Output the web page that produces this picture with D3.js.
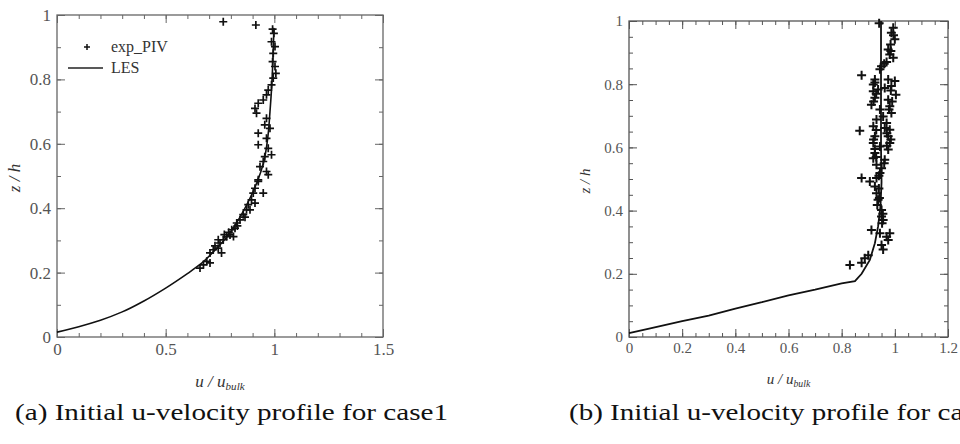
<!DOCTYPE html>
<html lang="en">
<head>
<meta charset="UTF-8">
<title>Initial u-velocity profiles</title>
<script src="https://cdn.jsdelivr.net/npm/d3@7"></script>
<style>
    body { margin: 0; background: #fff; }
    svg { display: block; }
    .domain { display: none; }
</style>
</head>
<body>
<script>

    // case1 : experiment (PIV) points, [u/ubulk, z/h]
    var expA = [
        [0.765, 0.979], [0.915, 0.969], [0.992, 0.956], [0.998, 0.943], [0.987, 0.917],
        [1.003, 0.902], [0.995, 0.881], [0.992, 0.855], [1.003, 0.840], [1.007, 0.819],
        [0.995, 0.804], [0.987, 0.783], [0.972, 0.767], [0.964, 0.752], [0.949, 0.736],
        [0.926, 0.726], [0.911, 0.710], [0.918, 0.695], [0.964, 0.679], [0.956, 0.659],
        [0.980, 0.648], [0.926, 0.633], [0.964, 0.617], [0.926, 0.597], [0.972, 0.586],
        [0.987, 0.566], [0.956, 0.560], [0.949, 0.545], [0.934, 0.529], [0.964, 0.514],
        [0.972, 0.504], [0.926, 0.488], [0.926, 0.483], [0.911, 0.462], [0.949, 0.447],
        [0.903, 0.447], [0.895, 0.426], [0.911, 0.416], [0.880, 0.411], [0.872, 0.395],
        [0.888, 0.395], [0.857, 0.380], [0.842, 0.364], [0.827, 0.354], [0.819, 0.338],
        [0.804, 0.333], [0.796, 0.317], [0.812, 0.312], [0.781, 0.312], [0.765, 0.302],
        [0.742, 0.302], [0.750, 0.292], [0.742, 0.276], [0.719, 0.271], [0.704, 0.261],
        [0.757, 0.261], [0.689, 0.235], [0.704, 0.230], [0.674, 0.224], [0.658, 0.214],
        [0.790, 0.325], [0.830, 0.345], [0.865, 0.372], [0.727, 0.283], [0.770, 0.318]
    ];

    // case1 : LES profile
    var lesA = [
        [0.0, 0.015], [0.1, 0.032], [0.2, 0.052], [0.3, 0.078], [0.4, 0.112],
        [0.5, 0.152], [0.6, 0.197], [0.66, 0.226], [0.72, 0.265], [0.78, 0.310],
        [0.84, 0.370], [0.88, 0.420], [0.92, 0.480], [0.95, 0.540], [0.97, 0.620],
        [0.98, 0.700], [0.988, 0.780], [0.994, 0.870], [0.998, 0.960]
    ];

    // case2 : experiment (PIV) points
    var expB = [
        [0.941, 0.993], [0.994, 0.979], [0.987, 0.963], [1.000, 0.942], [0.984, 0.926],
        [0.975, 0.910], [0.981, 0.894], [0.994, 0.884], [0.969, 0.870], [0.950, 0.857],
        [0.944, 0.847], [0.875, 0.828], [0.925, 0.815], [0.919, 0.799], [0.975, 0.815],
        [1.000, 0.810], [0.987, 0.794], [0.962, 0.788], [0.937, 0.783], [1.004, 0.767],
        [0.919, 0.778], [0.925, 0.757], [0.912, 0.735], [0.975, 0.751], [0.981, 0.730],
        [0.987, 0.709], [0.944, 0.720], [0.956, 0.698], [0.931, 0.688], [0.868, 0.653],
        [0.919, 0.667], [0.969, 0.677], [0.962, 0.661], [0.981, 0.656], [0.925, 0.635],
        [0.975, 0.635], [0.919, 0.614], [0.981, 0.614], [0.944, 0.603], [0.975, 0.593],
        [0.925, 0.582], [0.919, 0.566], [0.962, 0.561], [0.931, 0.545], [0.950, 0.534],
        [0.944, 0.519], [0.931, 0.503], [0.875, 0.503], [0.906, 0.492], [0.925, 0.476],
        [0.931, 0.455], [0.937, 0.434], [0.934, 0.418], [0.950, 0.402], [0.950, 0.381],
        [0.956, 0.370], [0.912, 0.339], [0.944, 0.328], [0.981, 0.328], [0.969, 0.317],
        [0.975, 0.307], [0.950, 0.291], [0.956, 0.277], [0.900, 0.259], [0.887, 0.249],
        [0.875, 0.235], [0.831, 0.228],
        [0.925, 0.805], [0.930, 0.770], [0.920, 0.745], [0.985, 0.780], [0.990, 0.745],
        [0.978, 0.720], [0.930, 0.655], [0.920, 0.625], [0.925, 0.595], [0.930, 0.570],
        [0.970, 0.645], [0.985, 0.625], [0.970, 0.605], [0.960, 0.550], [0.940, 0.470],
        [0.942, 0.440], [0.955, 0.390], [0.952, 0.360], [0.985, 0.905], [0.995, 0.955],
        [0.960, 0.865], [0.940, 0.510]
    ];

    // case2 : LES profile
    var lesB = [
        [0.0, 0.012], [0.08, 0.027], [0.2, 0.050], [0.3, 0.068], [0.4, 0.090],
        [0.5, 0.110], [0.6, 0.132], [0.7, 0.150], [0.8, 0.170], [0.85, 0.177],
        [0.875, 0.200], [0.906, 0.244], [0.925, 0.297], [0.937, 0.350], [0.946, 0.414],
        [0.950, 0.490], [0.948, 0.600], [0.948, 0.800], [0.948, 1.000]
    ];

    var ticksA_x = [0, 0.5, 1, 1.5];
    var ticksA_y = [0, 0.2, 0.4, 0.6, 0.8, 1];
    var ticksB_x = [0, 0.2, 0.4, 0.6, 0.8, 1, 1.2];
    var ticksB_y = [0, 0.2, 0.4, 0.6, 0.8, 1];

    var captions = ["(a) Initial u-velocity profile for case1",
                    "(b) Initial u-velocity profile for case2"];
    var legendNames = ["exp_PIV", "LES"];

    var width = 960, height = 444;
    var serif = "Liberation Serif, Times New Roman, serif";

    var svg = d3.select("body").append("svg")
        .attr("width", width)
        .attr("height", height)
        .attr("viewBox", [0, 0, width, height]);

    function plus(s) {
        return "M" + (-s) + ",0H" + s + "M0," + (-s) + "V" + s;
    }

    function drawPanel(p) {
        var g = svg.append("g");

        var x = d3.scaleLinear().domain(p.xDomain).range([p.left, p.right]);
        var y = d3.scaleLinear().domain([0, 1]).range([p.bottom, p.top]);

        var minorX = d3.range(p.xDomain[0], p.xDomain[1] + 1e-9, p.xMinor);
        var minorY = d3.range(0, 1 + 1e-9, p.yMinor);

        function axisGroup(axis, tx, ty) {
            var a = g.append("g")
                .attr("transform", "translate(" + tx + "," + ty + ")")
                .call(axis)
                .attr("font-family", serif)
                .attr("font-size", p.tickFont);
            a.selectAll("line").attr("stroke", p.frame).attr("stroke-width", 1);
            a.selectAll("text").attr("fill", "#555");
            return a;
        }

        // major ticks, pointing inwards, on all four sides
        axisGroup(d3.axisBottom(x).tickValues(p.xTicks).tickSize(-8).tickPadding(p.xPad)
            .tickFormat(d3.format("")), 0, p.bottom);
        axisGroup(d3.axisTop(x).tickValues(p.xTicks).tickSize(-8).tickFormat(""), 0, p.top);
        axisGroup(d3.axisLeft(y).tickValues(p.yTicks).tickSize(-8).tickPadding(p.yPad)
            .tickFormat(d3.format("")), p.left, 0);
        axisGroup(d3.axisRight(y).tickValues(p.yTicks).tickSize(-8).tickFormat(""), p.right, 0);

        // minor ticks
        axisGroup(d3.axisBottom(x).tickValues(minorX).tickSize(-4).tickFormat(""), 0, p.bottom);
        axisGroup(d3.axisTop(x).tickValues(minorX).tickSize(-4).tickFormat(""), 0, p.top);
        axisGroup(d3.axisLeft(y).tickValues(minorY).tickSize(-4).tickFormat(""), p.left, 0);
        axisGroup(d3.axisRight(y).tickValues(minorY).tickSize(-4).tickFormat(""), p.right, 0);

        // frame
        g.append("rect")
            .attr("x", p.left)
            .attr("y", p.top)
            .attr("width", p.right - p.left)
            .attr("height", p.bottom - p.top)
            .attr("fill", "none")
            .attr("stroke", p.frame)
            .attr("stroke-width", 1.3);

        var line = d3.line()
            .x(function (d) { return x(d[0]); })
            .y(function (d) { return y(d[1]); })
            .curve(p.curve);

        g.append("path")
            .datum(p.les)
            .attr("fill", "none")
            .attr("stroke", "#111")
            .attr("stroke-width", p.lineWidth)
            .attr("d", line);

        g.selectAll(".pt")
            .data(p.exp)
            .enter().append("path")
            .attr("class", "pt")
            .attr("transform", function (d) { return "translate(" + x(d[0]) + "," + y(d[1]) + ")"; })
            .attr("d", plus(p.markSize))
            .attr("stroke", "#111")
            .attr("stroke-width", p.markWidth)
            .attr("fill", "none");

        // axis titles
        var xt = g.append("text")
            .attr("x", (p.left + p.right) / 2)
            .attr("y", p.xTitleY)
            .attr("text-anchor", "middle")
            .attr("font-family", serif)
            .attr("font-style", "italic")
            .attr("font-size", p.titleFont + "px")
            .attr("fill", "#333");
        xt.append("tspan").text("u / u");
        xt.append("tspan")
            .attr("dy", 3)
            .attr("font-size", (p.titleFont * 0.65) + "px")
            .text("bulk");

        g.append("text")
            .attr("transform", "translate(" + p.yTitleX + "," + ((p.top + p.bottom) / 2 + 2) + ") rotate(-90)")
            .attr("text-anchor", "middle")
            .attr("dominant-baseline", "middle")
            .attr("font-family", serif)
            .attr("font-style", "italic")
            .attr("font-size", p.titleFont + "px")
            .attr("fill", "#333")
            .text("z / h");

        // caption
        svg.append("text")
            .attr("x", p.captionX)
            .attr("y", 420)
            .attr("font-family", serif)
            .attr("font-size", "24px")
            .attr("fill", "#111")
            .attr("textLength", 433)
            .attr("lengthAdjust", "spacingAndGlyphs")
            .text(p.caption);

        return {x: x, y: y, g: g};
    }

    var a = drawPanel({
        left: 57, right: 383, top: 15, bottom: 337,
        xDomain: [0, 1.5], xTicks: ticksA_x, yTicks: ticksA_y,
        xMinor: 0.1, yMinor: 0.1,
        les: lesA, exp: expA, curve: d3.curveMonotoneY,
        frame: "#666", tickFont: 17, xPad: 6, yPad: 6,
        lineWidth: 1.6, markSize: 4, markWidth: 1.7,
        titleFont: 17, xTitleY: 387, yTitleX: 16,
        captionX: 15, caption: captions[0]
    });

    drawPanel({
        left: 629, right: 948, top: 21, bottom: 337,
        xDomain: [0, 1.2], xTicks: ticksB_x, yTicks: ticksB_y,
        xMinor: 0.05, yMinor: 0.05,
        les: lesB, exp: expB, curve: d3.curveLinear,
        frame: "#555", tickFont: 15, xPad: 5, yPad: 6,
        lineWidth: 1.8, markSize: 4.5, markWidth: 2,
        titleFont: 15, xTitleY: 384, yTitleX: 587,
        captionX: 569, caption: captions[1]
    });

    // legend (case1)
    var lg = a.g.append("g");
    lg.append("path")
        .attr("transform", "translate(87,47)")
        .attr("d", plus(3))
        .attr("stroke", "#111")
        .attr("stroke-width", 1.5);
    lg.append("line")
        .attr("x1", 68).attr("x2", 103)
        .attr("y1", 68).attr("y2", 68)
        .attr("stroke", "#222")
        .attr("stroke-width", 1.6);
    lg.selectAll("text")
        .data(legendNames)
        .enter().append("text")
        .attr("x", 111)
        .attr("y", function (d, i) { return 52 + i * 21; })
        .attr("font-family", serif)
        .attr("font-size", "16px")
        .attr("fill", "#333")
        .text(function (d) { return d; });

</script>
</body>
</html>
